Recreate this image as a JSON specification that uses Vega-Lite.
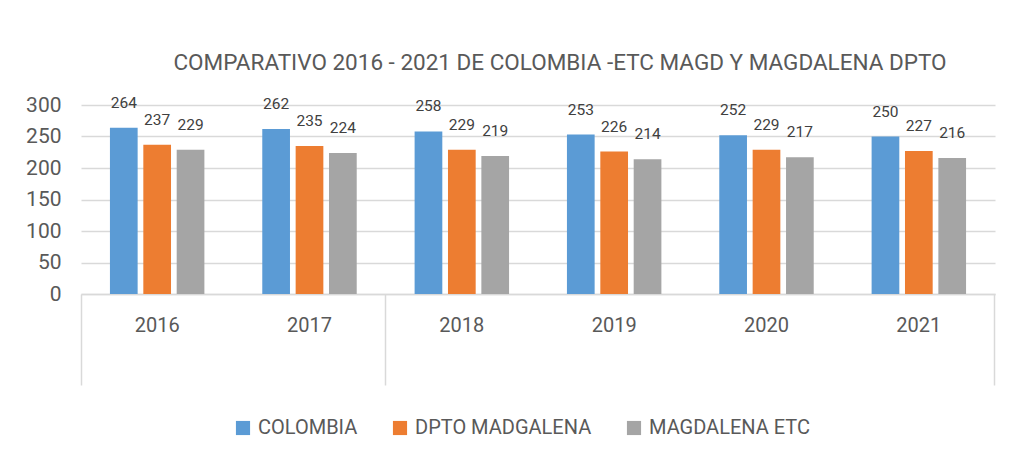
{
  "$schema": "https://vega.github.io/schema/vega-lite/v6.json",
  "width": 914,
  "height": 189,
  "autosize": {"type": "none"},
  "padding": {"left": 81, "top": 105, "right": 18, "bottom": 180},
  "background": "white",
  "config": {
    "font": "Roboto, sans-serif",
    "view": {"stroke": null}
  },
  "title": {
    "text": "COMPARATIVO 2016 - 2021 DE COLOMBIA -ETC MAGD Y MAGDALENA DPTO",
    "fontSize": 22.5,
    "fontWeight": "normal",
    "color": "#595959",
    "frame": "group",
    "anchor": "middle",
    "dx": 22,
    "offset": 20
  },
  "data": {
    "values": [
      {"year": "2016", "series": "COLOMBIA", "value": 264},
      {"year": "2016", "series": "DPTO MADGALENA", "value": 237},
      {"year": "2016", "series": "MAGDALENA ETC", "value": 229},
      {"year": "2017", "series": "COLOMBIA", "value": 262},
      {"year": "2017", "series": "DPTO MADGALENA", "value": 235},
      {"year": "2017", "series": "MAGDALENA ETC", "value": 224},
      {"year": "2018", "series": "COLOMBIA", "value": 258},
      {"year": "2018", "series": "DPTO MADGALENA", "value": 229},
      {"year": "2018", "series": "MAGDALENA ETC", "value": 219},
      {"year": "2019", "series": "COLOMBIA", "value": 253},
      {"year": "2019", "series": "DPTO MADGALENA", "value": 226},
      {"year": "2019", "series": "MAGDALENA ETC", "value": 214},
      {"year": "2020", "series": "COLOMBIA", "value": 252},
      {"year": "2020", "series": "DPTO MADGALENA", "value": 229},
      {"year": "2020", "series": "MAGDALENA ETC", "value": 217},
      {"year": "2021", "series": "COLOMBIA", "value": 250},
      {"year": "2021", "series": "DPTO MADGALENA", "value": 227},
      {"year": "2021", "series": "MAGDALENA ETC", "value": 216}
    ]
  },
  "encoding": {
    "xOffset": {
      "field": "series",
      "type": "nominal",
      "sort": ["COLOMBIA", "DPTO MADGALENA", "MAGDALENA ETC"],
      "scale": {"paddingInner": 0.17}
    },
    "y": {
      "field": "value",
      "type": "quantitative",
      "scale": {"domain": [0, 300]},
      "axis": {
        "title": null,
        "values": [0, 50, 100, 150, 200, 250, 300],
        "domain": false,
        "ticks": false,
        "labelFontSize": 21,
        "labelColor": "#595959",
        "labelPadding": 20,
        "gridColor": "#d9d9d9",
        "gridWidth": 1.5
      }
    }
  },
  "resolve": {"axis": {"x": "independent"}},
  "layer": [
    {
      "mark": {"type": "bar"},
      "encoding": {
        "x": {
          "field": "year",
          "type": "nominal",
          "scale": {"paddingInner": 0.38, "paddingOuter": 0.19},
          "axis": {
            "title": null,
            "orient": "bottom",
            "labelAngle": 0,
            "labelFontSize": 20,
            "labelColor": "#595959",
            "domainColor": "#d9d9d9",
            "domainWidth": 1.5,
            "bandPosition": -0.306,
            "tickSize": 91,
            "tickColor": "#d9d9d9",
            "tickWidth": 1.5,
            "tickOpacity": {"condition": {"test": "datum.value == '2016' || datum.value == '2018'", "value": 1}, "value": 0},
            "labelPadding": -70
          }
        },
        "color": {
          "field": "series",
          "type": "nominal",
          "sort": ["COLOMBIA", "DPTO MADGALENA", "MAGDALENA ETC"],
          "scale": {"range": ["#5b9bd5", "#ed7d31", "#a5a5a5"]},
          "legend": {
            "title": null,
            "orient": "none",
            "direction": "horizontal",
            "legendX": 152,
            "legendY": 313,
            "symbolType": "square",
            "symbolSize": 200,
            "symbolStrokeWidth": 0,
            "labelFontSize": 20,
            "labelLimit": 400,
            "labelColor": "#595959",
            "columnPadding": 32,
            "labelOffset": 5
          }
        }
      }
    },
    {
      "mark": {"type": "text", "dy": -25, "fontSize": 15.5, "color": "#404040"},
      "encoding": {
        "x": {
          "field": "year",
          "type": "nominal",
          "axis": {
            "title": null,
            "orient": "bottom",
            "labels": false,
            "domain": false,
            "bandPosition": 1.306,
            "tickSize": 91,
            "tickColor": "#d9d9d9",
            "tickWidth": 1.5,
            "tickOpacity": {"condition": {"test": "datum.value == '2021'", "value": 1}, "value": 0}
          }
        },
        "text": {"field": "value", "type": "quantitative"}
      }
    }
  ]
}
